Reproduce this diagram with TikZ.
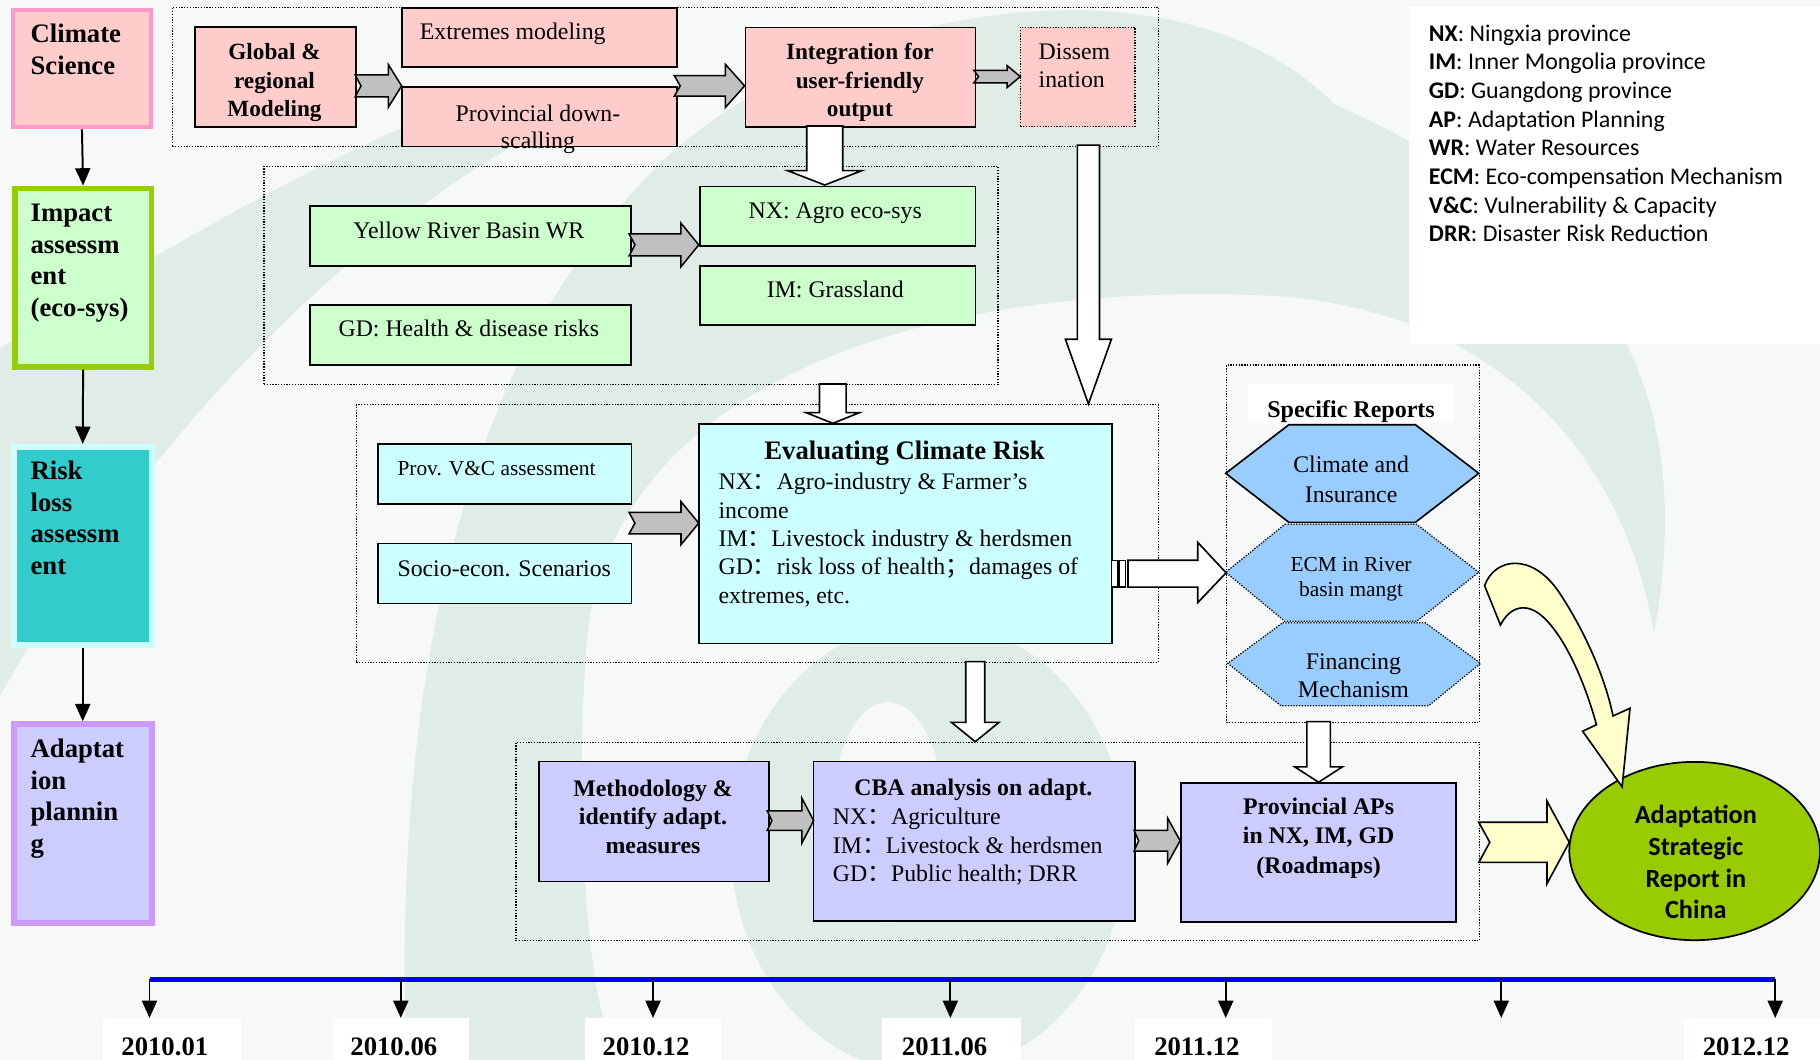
\documentclass[tikz,border=0pt]{standalone}
\usepackage{fontspec}
\setmainfont{Liberation Serif}
\newfontfamily\calib{Carlito}
\newfontfamily\cjk{Noto Sans CJK SC}
\usetikzlibrary{arrows.meta,shapes.geometric}
\definecolor{bgc}{HTML}{F7F9F8}
\definecolor{swc}{HTML}{DFEDE6}
\definecolor{pinkF}{HTML}{FFCCCC}
\definecolor{pinkB}{HTML}{FF99CC}
\definecolor{greenF}{HTML}{CCFFCC}
\definecolor{limeB}{HTML}{99CC00}
\definecolor{cyanF}{HTML}{CCFFFF}
\definecolor{tealF}{HTML}{33CCCC}
\definecolor{lavF}{HTML}{CCCCFF}
\definecolor{violetB}{HTML}{CC99FF}
\definecolor{hexF}{HTML}{99CCFF}
\definecolor{grayA}{HTML}{C0C0C0}
\definecolor{yellowA}{HTML}{FFFFCC}
\definecolor{ellG}{HTML}{99CC00}
\definecolor{tlblue}{HTML}{0000FF}
\newcommand\fz[2]{\fontsize{#1}{#2}\selectfont}
\newcommand\zcolon{{\cjk ：}}
\newcommand\zsemi{{\cjk ；}}
\newcommand\garr[8]{\draw[#1] (#2,#5-#6) -- (#3,#5-#6) -- (#3,#5-#7) -- (#4,#5) -- (#3,#5+#7) -- (#3,#5+#6) -- (#2,#5+#6) -- (#2+#8,#5) -- cycle;}
\newcommand\wdn[7]{\draw[#1] (#2-#6,#3) -- (#2-#6,#4) -- (#2-#7,#4) -- (#2,#5) -- (#2+#7,#4) -- (#2+#6,#4) -- (#2+#6,#3) -- cycle;}
\tikzset{
  bx/.style={draw=black, line width=1.4pt, inner sep=0pt, anchor=north west},
  grp/.style={draw=black, line width=1.1pt, dash pattern=on 1.1pt off 1.3pt, inner sep=0pt, anchor=north west},
  dotline/.style={draw=black, line width=1.1pt, dash pattern=on 1.1pt off 1.3pt},
  tl/.style={inner sep=0pt, anchor=north west, align=left, yshift=-3.5pt},
  tc/.style={inner sep=0pt, anchor=north, align=center, yshift=-3.5pt},
  tb/.style={inner sep=0pt, anchor=base},
  ga/.style={fill=grayA, draw=black, line width=1.3pt, line join=miter},
  wa/.style={fill=white, draw=black, line width=1.4pt, line join=miter},
  ya/.style={fill=yellowA, draw=black, line width=1.4pt, line join=miter},
  tick/.style={line width=1.7pt, -{Triangle[length=15pt,width=13pt]}},
  datebox/.style={fill=white, inner sep=0pt, anchor=north west, minimum height=40pt},
}
\begin{document}
\begin{tikzpicture}[x=1pt,y=-1pt]
\useasboundingbox (0,0) rectangle (1568,913);
% ---------- background watermark ----------
\begin{scope}
\clip (0,0) rectangle (1568,913);
\fill[bgc] (0,0) rectangle (1568,913);
\fill[swc] (0,300) .. controls (120,230) and (260,140) .. (420,80) -- (470,110) .. controls (300,200) and (120,380) .. (0,600) -- cycle;
\fill[swc] (350,913) .. controls (340,640) and (380,330) .. (560,150) .. controls (680,20) and (1000,-60) .. (1150,90) .. controls (1350,180) and (1470,300) .. (1425,545) .. controls (1400,400) and (1300,270) .. (1100,255) .. controls (800,240) and (520,330) .. (505,560) .. controls (495,700) and (505,850) .. (530,913) -- cycle;
\fill[swc, even odd rule] (800,730) ellipse [x radius=170, y radius=195] (765,700) ellipse [x radius=48, y radius=95];
\end{scope}
% legend panel
\fill[white] (1214,6) rectangle (1568,296);
\node[tl, yshift=-0.5pt, font=\calib\fz{20.6}{24.7}] (legend) at (1230.9,17) {\textbf{NX}: Ningxia province\\\textbf{IM}: Inner Mongolia province\\\textbf{GD}: Guangdong province\\\textbf{AP}: Adaptation Planning\\\textbf{WR}: Water Resources\\\textbf{ECM}: Eco-compensation Mechanism\\\textbf{V\&C}: Vulnerability \& Capacity\\\textbf{DRR}: Disaster Risk Reduction};
% ---------- left column ----------
\node[bx, draw=pinkB, line width=3.4pt, fill=pinkF, minimum width=119, minimum height=101.4] (cs) at (9.4,6.7) {};
\node[bx, draw=limeB, line width=5pt, fill=greenF, minimum width=117.8, minimum height=153.6] (ia) at (10.2,159.9) {};
\node[bx, draw=cyanF, line width=4.9pt, fill=tealF, minimum width=119, minimum height=170.8] (rl) at (9.35,382.45) {};
\node[bx, draw=violetB, line width=4.9pt, fill=lavF, minimum width=119, minimum height=171.1] (ap) at (9.35,621.45) {};
\draw[tick] (cs.south) -- (ia.north);
\draw[tick] (ia.south) -- (rl.north);
\draw[tick] (rl.south) -- (ap.north);
\node[tl, font=\bfseries\fz{23}{27.3}] at (26.2,17) {Climate\\Science};
\node[tl, font=\bfseries\fz{23}{27.3}] at (26.2,172.1) {Impact\\assessm\\ent\\(eco-sys)};
\node[tl, font=\bfseries\fz{23}{27.3}] at (26.2,393.3) {Risk\\loss\\assessm\\ent};
\node[tl, font=\bfseries\fz{23}{27.3}] at (26.2,633) {Adaptat\\ion\\plannin\\g};
% ---------- groups ----------
\node[grp, minimum width=849.3, minimum height=119.8] (g1) at (148,5.7) {};
\node[grp, minimum width=632.2, minimum height=188.1] (g2) at (227,142.7) {};
\node[grp, minimum width=690.8, minimum height=222] (g3) at (306.5,348) {};
\node[grp, minimum width=218, minimum height=307.7] (g4) at (1056,314) {};
\node[grp, minimum width=830, minimum height=170.9] (g5) at (444,639) {};
% ---------- top row ----------
\node[bx, fill=pinkF, minimum width=138.5, minimum height=86.2] (glob) at (167.3,22.4) {};
\node[bx, fill=pinkF, minimum width=237.2, minimum height=50.6] (ext) at (345.4,6.3) {};
\node[bx, fill=pinkF, minimum width=237.2, minimum height=51.4] (prov) at (345.4,74.1) {};
\node[bx, fill=pinkF, minimum width=198.2, minimum height=85.6] (integ) at (641.5,23) {};
\node[grp, fill=pinkF, minimum width=98.9, minimum height=85.6] (diss) at (878.4,23) {};
\node[tc, font=\bfseries\fz{20}{24.5}] at (236.5,33.8) {Global \&\\regional\\Modeling};
\node[tb, anchor=base west, font=\fz{20.5}{24}] at (361.5,33.9) {Extremes modeling};
\node[tc, font=\fz{20.5}{23}] at (463.5,86.7) {Provincial down-\\scalling};
\node[tc, font=\bfseries\fz{20}{24.5}] at (740.8,33.8) {Integration for\\user-friendly\\output};
\node[tl, font=\fz{20.5}{24.4}] at (894.7,34) {Dissem\\ination};
\garr{ga}{306}{334.5}{346}{74}{9.5}{18.5}{5}
\garr{ga}{581}{625}{641.5}{74}{8.8}{18.5}{5}
\garr{ga}{839}{867.6}{879}{66}{5.4}{9.5}{4}
% ---------- impact row ----------
\node[bx, fill=greenF, minimum width=276.9, minimum height=51.7] (yr) at (266.2,176.6) {};
\node[bx, fill=greenF, minimum width=276.9, minimum height=51.7] (gdh) at (266.2,261.9) {};
\node[bx, fill=greenF, minimum width=237.4, minimum height=51] (nxa) at (602.3,160) {};
\node[bx, fill=greenF, minimum width=237.4, minimum height=50.8] (img) at (602.3,228.3) {};
\node[tb, font=\fz{20.5}{24}] at (403.9,205.5) {Yellow River Basin WR};
\node[tb, font=\fz{20.5}{24}] at (403.9,290) {GD: Health \& disease risks};
\node[tb, font=\fz{20.5}{24}] at (719.6,188.6) {NX: Agro eco-sys};
\node[tb, font=\fz{20.5}{24}] at (719.6,256.4) {IM: Grassland};
\garr{ga}{542}{586.5}{602}{211}{9.5}{19}{5}
% ---------- risk row ----------
\node[bx, fill=cyanF, minimum width=218.5, minimum height=51.6] (pvc) at (325,382) {};
\node[bx, fill=cyanF, minimum width=218.5, minimum height=51.7] (soc) at (325,467.5) {};
\node[bx, fill=cyanF, minimum width=355.9, minimum height=189] (ecr) at (601.5,364.7) {};
\node[tb, anchor=base west, font=\fz{18.4}{22}] at (342.3,409.4) {Prov. V\&C assessment};
\node[tb, anchor=base west, font=\fz{20.5}{24}] at (342.3,496.8) {Socio-econ. Scenarios};
\node[tb, font=\bfseries\fz{23}{27}] at (779.3,395.7) {Evaluating Climate Risk};
\node[tl, font=\fz{20.5}{24.4}] at (618.9,404) {NX\zcolon Agro-industry \& Farmer’s\\income\\IM\zcolon Livestock industry \& herdsmen\\GD\zcolon risk loss of health\zsemi damages of\\extremes, etc.};
\garr{ga}{542}{586.7}{602}{450.7}{9.2}{18.5}{5}
% ---------- specific reports ----------
\fill[white] (1075,331) rectangle (1253,364);
\node[tb, font=\bfseries\fz{20.7}{24}] (sr) at (1164,359.3) {Specific Reports};
\draw[dotline, fill=hexF] (1105,536.6) -- (1228,536.6) -- (1275.6,571.5) -- (1230.7,608) -- (1103.6,608) -- (1057.7,571.5) -- cycle;
\draw[dotline, fill=hexF] (1107,451.7) -- (1220.4,451.7) -- (1274,493) -- (1220.4,535.3) -- (1107,535.3) -- (1056,493) -- cycle;
\draw[line width=1.4pt, fill=hexF] (1110.4,365.9) -- (1219.4,365.9) -- (1274,407.8) -- (1219.4,450) -- (1110.4,450) -- (1056,407.8) -- cycle;
\node[tc, font=\fz{20.5}{25.5}] (h1) at (1164,389.3) {Climate and\\Insurance};
\node[tc, font=\fz{18.4}{21.2}] (h2) at (1164,476.8) {ECM in River\\basin mangt};
\node[tc, font=\fz{20.5}{24}] (h3) at (1166,559.4) {Financing\\Mechanism};
% striped arrow to reports
\draw[wa, line width=1.2pt] (957.5,482.7) rectangle (963,505.8);
\draw[wa, line width=1.2pt] (964.2,482.7) rectangle (969.7,505.8);
\draw[wa] (971.8,482.7) -- (1031.9,482.7) -- (1031.9,467.3) -- (1056.3,493.5) -- (1031.9,519.2) -- (1031.9,505.8) -- (971.8,505.8) -- cycle;
% ---------- adaptation row ----------
\node[bx, fill=lavF, minimum width=197.9, minimum height=103.4] (meth) at (463.7,655.3) {};
\node[bx, fill=lavF, minimum width=276.9, minimum height=137.3] (cba) at (700.1,655.3) {};
\node[bx, fill=lavF, minimum width=236.6, minimum height=119.5] (pap) at (1017,673.9) {};
\node[tc, font=\bfseries\fz{20.5}{24.7}] at (562.6,667.9) {Methodology \&\\identify adapt.\\measures};
\node[tb, font=\bfseries\fz{20.5}{24}] at (838.6,685.2) {CBA analysis on adapt.};
\node[tl, font=\fz{20.5}{24.7}] at (717.4,692.3) {NX\zcolon Agriculture\\IM\zcolon Livestock \& herdsmen\\GD\zcolon Public health; DRR};
\node[tc, font=\bfseries\fz{20.5}{25.2}] at (1136,684) {Provincial APs\\in NX, IM, GD\\(Roadmaps)};
\garr{ga}{661}{690.8}{701}{707}{8.4}{19.4}{4}
\garr{ga}{977}{1006}{1016.7}{724.3}{9}{19.4}{4}
% ---------- white down arrows ----------
\wdn{wa}{710.5}{108.6}{147}{159.4}{15.5}{32}
\wdn{wa}{937.7}{125}{292.3}{348}{9.5}{19.8}
\wdn{wa}{717.5}{330.8}{355.5}{364.7}{11.5}{23}
\wdn{wa}{840.2}{570}{622.3}{639}{8.2}{20.5}
\wdn{wa}{1136}{621.7}{660.7}{673.9}{10.1}{20.5}
% ---------- final report ----------
\node[ellipse, draw=black, line width=1.5pt, fill=ellG, minimum width=216, minimum height=153.6, inner sep=0pt] (asr) at (1460,733.2) {};
\node[tc, font=\calib\bfseries\fz{22.6}{27.5}] at (1461,689.6) {Adaptation\\Strategic\\Report in\\China};
\garr{ya}{1274}{1332.8}{1352}{725.7}{17.3}{35.5}{9.5}
\draw[ya] (1279,504.5) .. controls (1288,480) and (1320,476) .. (1343,510) .. controls (1363,540) and (1382,580) .. (1389.7,616.8) -- (1404.3,610.2) -- (1397.5,677.9) -- (1363.5,630) -- (1375.4,624.4) .. controls (1366,590) and (1350,552) .. (1331,533) .. controls (1316,518) and (1301,522) .. (1292.7,538.5) -- cycle;
% ---------- timeline ----------
\coordinate (t1) at (128.8,843.5); \coordinate (t2) at (345.3,843.5); \coordinate (t3) at (562.6,843.5);
\coordinate (t4) at (818.8,843.5); \coordinate (t5) at (1056,843.5); \coordinate (t6) at (1293.4,843.5);
\coordinate (t7) at (1529.4,843.5);
\draw[tlblue, line width=4.3pt] (t1) -- (t7);
\node[datebox, minimum width=119.2] (d1) at (88.5,877) {};
\node[datebox, minimum width=117.5] (d2) at (286.5,877) {};
\node[datebox, minimum width=117.1] (d3) at (503.9,877) {};
\node[datebox, minimum width=119] (d4) at (760,877) {};
\node[datebox, minimum width=118.1] (d5) at (977.3,877) {};
\node[datebox, minimum width=117] (d7) at (1451,877) {};
\foreach \i in {1,...,7} {\draw[tick] (t\i) -- ++(0,33.5);}
\node[tb, font=\bfseries\fz{23}{27}] at (142,909.2) {2010.01};
\node[tb, font=\bfseries\fz{23}{27}] at (339.3,909.2) {2010.06};
\node[tb, font=\bfseries\fz{23}{27}] at (556.6,909.2) {2010.12};
\node[tb, font=\bfseries\fz{23}{27}] at (813.8,909.2) {2011.06};
\node[tb, font=\bfseries\fz{23}{27}] at (1031.2,909.2) {2011.12};
\node[tb, font=\bfseries\fz{23}{27}] at (1504.4,909.2) {2012.12};
\end{tikzpicture}
\end{document}
